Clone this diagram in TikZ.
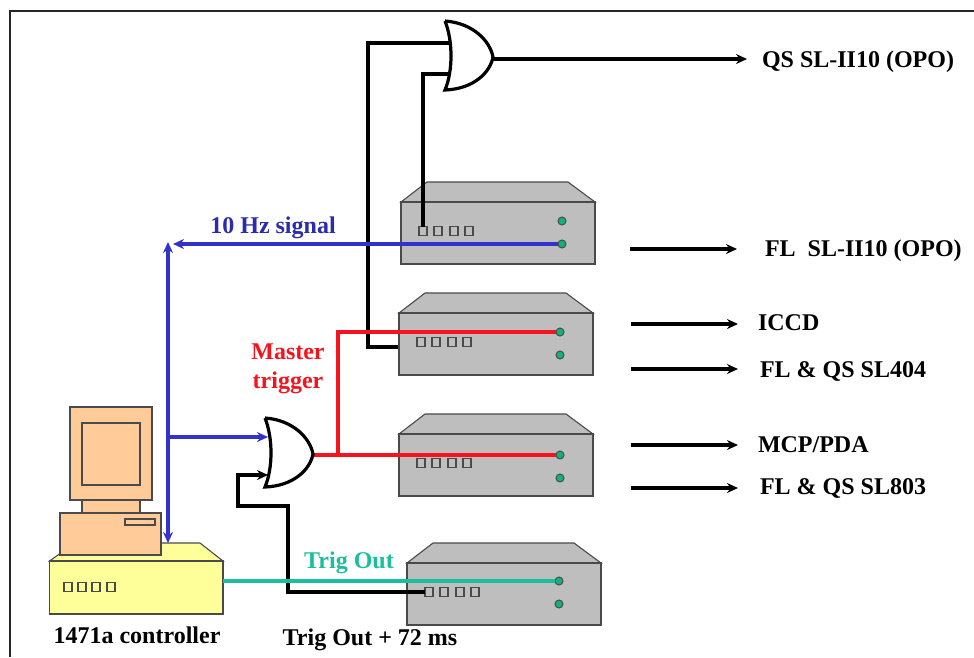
\documentclass[tikz,border=0pt]{standalone}
\usepackage{fontspec}
\setmainfont{Liberation Serif}
\usetikzlibrary{arrows.meta}
\definecolor{sigblue}{HTML}{3333CC}
\definecolor{sigred}{HTML}{F5141E}
\definecolor{siggreen}{HTML}{1ABF9B}
\definecolor{boxgray}{HTML}{BEBEBE}
\definecolor{boxedge}{HTML}{4A4A4A}
\definecolor{pcskin}{HTML}{FFCC99}
\definecolor{ctrlyellow}{HTML}{FFFF99}
\definecolor{ledgreen}{HTML}{10B380}
\tikzset{
  wire/.style={line width=3.2pt},
  boxedge/.style={draw=boxedge, line width=1.1pt},
  chassisbox/.style={boxedge, fill=boxgray, inner sep=0pt, outer sep=0pt, anchor=north west, minimum width=194pt, minimum height=62pt},
  chassispad/.style={boxedge, inner sep=0pt, outer sep=0pt, minimum width=8pt, minimum height=9pt},
  chassisled/.style={circle, draw=boxedge, fill=ledgreen, line width=1pt, inner sep=0pt, outer sep=0pt, minimum size=8pt},
  lbl/.style={font=\fontsize{24}{28}\selectfont\bfseries, inner sep=0pt, outer sep=0pt},
}
% name, x, y of the front's top left corner, led x offset, led y offset
\newcommand{\chassis}[5]{
  \filldraw[boxedge, fill=boxgray] (#2,#3) -- (#2+26,#3-20) -- (#2+167,#3-20) -- (#2+194,#3) -- cycle;
  \node[chassisbox] (#1) at (#2,#3) {};
  \node[chassispad] (#1-p1) at (#2+22,#3+29) {};
  \node[chassispad] (#1-p2) at (#2+37,#3+29) {};
  \node[chassispad] (#1-p3) at (#2+53,#3+29) {};
  \node[chassispad] (#1-p4) at (#2+68,#3+29) {};
  \node[chassisled] (#1-d1) at (#2+#4,#3+#5) {};
  \node[chassisled] (#1-d2) at (#2+#4,#3+#5+23) {};
}
% x, y of the top tip of the back
\newcommand{\orgate}[2]{
  \filldraw[line width=3.2pt, fill=white, line join=miter] (#1,#2) .. controls (#1+8,#2+20) and (#1+8,#2+50) .. (#1,#2+69)
    .. controls (#1+28,#2+68) and (#1+45,#2+52) .. (#1+48,#2+36)
    .. controls (#1+45,#2+20) and (#1+28,#2+2) .. (#1,#2);
}
\begin{document}
\begin{tikzpicture}[x=1pt, y=-1pt, >={Stealth[length=11pt, width=10pt]}]
  \useasboundingbox (0,0) rectangle (974,657);

  % 1. frame (left and top only)
  \draw[line width=2.8pt, black!85] (10,657) -- (10,11) -- (974,11);

  % 2. delay boxes
  \chassis{flbox}{401}{202}{161}{19}
  \chassis{icbox}{399}{313}{161}{19}
  \chassis{mcbox}{399}{434}{161}{21}
  \chassis{tobox}{407}{563}{152}{18}

  % 3. controller and computer
  \filldraw[boxedge, fill=ctrlyellow] (49.5,561) -- (75,543) -- (200,543) -- (223,561) -- cycle;
  \node[boxedge, fill=ctrlyellow, inner sep=0pt, outer sep=0pt, anchor=north west, minimum width=173.5pt, minimum height=53pt] (ctrl) at (49.5,561) {};
  \node[chassispad] (ctrl-p1) at (68,587) {};
  \node[chassispad] (ctrl-p2) at (82,587) {};
  \node[chassispad] (ctrl-p3) at (96,587) {};
  \node[chassispad] (ctrl-p4) at (111,587) {};
  \filldraw[boxedge, fill=pcskin] (82,500) rectangle (140,513);
  \filldraw[boxedge, fill=pcskin] (70,407) rectangle (152,500);
  \draw[boxedge] (82,423) rectangle (140,485);
  \filldraw[boxedge, fill=pcskin] (60,513) rectangle (161,555);
  \draw[boxedge] (125,519) rectangle (155,525);

  % 4. named points of the wiring
  \coordinate (hzleft) at (173,244);
  \coordinate (hztop) at (168,242);
  \coordinate (hzbot) at (168,543);
  \coordinate (hzgate) at (168,437);
  \coordinate (gatea) at (268,437);
  \coordinate (gateb) at (268,475);
  \coordinate (gateo) at (313,455);
  \coordinate (redfork) at (338,455);
  \coordinate (qsa) at (451,43);
  \coordinate (qsb) at (451,74);
  \coordinate (qso) at (493,59);
  \coordinate (ictap) at (398,347);

  % 5. wires
  \draw[wire, black, line join=miter] (ictap) -| (368,43) -- (qsa);
  \draw[wire, black, line join=miter] (flbox-p1.north) |- (qsb);
  \draw[wire, sigblue, ->] (flbox-d2.west) -- (hzleft);
  \draw[wire, sigblue, <->] (hzbot) -- (hztop);
  \draw[wire, sigblue, ->] (hzgate) -- (gatea);
  \draw[wire, black, ->, line join=miter] (tobox-p1.west) -| (288,506) -| (238,475) -- (gateb);
  \draw[wire, siggreen] (ctrl.east |- tobox-d1) -- (tobox-d1.west);
  \draw[wire, sigred] (gateo) -- (mcbox-d1.west);
  \draw[wire, sigred, line join=miter] (redfork) |- (icbox-d1.west);

  % 6. gates
  \orgate{445}{21}
  \orgate{265}{418}

  % 7. outputs
  \node[lbl, anchor=west] (qslbl) at (762,62) {QS SL-II10 (OPO)};
  \node[lbl, anchor=west] (fllbl) at (765,251) {FL\ \ SL-II10 (OPO)};
  \node[lbl, anchor=west] (iclbl) at (758,323) {ICCD};
  \node[lbl, anchor=west] (sl4lbl) at (760,371) {FL \& QS SL404};
  \node[lbl, anchor=west] (mclbl) at (758,445) {MCP/PDA};
  \node[lbl, anchor=west] (sl8lbl) at (760,488) {FL \& QS SL803};

  \coordinate (flout) at (630,249);
  \coordinate (icout) at (631,324);
  \coordinate (sl4out) at (631,369);
  \coordinate (mcout) at (631,445);
  \coordinate (sl8out) at (631,488);

  \draw[wire, ->, shorten >=15pt] (qso) -- (qso -| qslbl.west);
  \draw[wire, ->, shorten >=28pt] (flout) -- (flout -| fllbl.west);
  \draw[wire, ->, shorten >=20pt] (icout) -- (icout -| iclbl.west);
  \draw[wire, ->, shorten >=22pt] (sl4out) -- (sl4out -| sl4lbl.west);
  \draw[wire, ->, shorten >=20pt] (mcout) -- (mcout -| mclbl.west);
  \draw[wire, ->, shorten >=22pt] (sl8out) -- (sl8out -| sl8lbl.west);

  % 8. signal names
  \node[lbl, text=sigblue!85!black] (hzlbl) at (273,228) {10 Hz signal};
  \node[lbl, text=sigred, align=center, font=\fontsize{24}{29}\selectfont\bfseries] (mtlbl) at (288,369) {Master\\trigger};
  \node[lbl, text=siggreen] (tolbl) at (349,563) {Trig Out};
  \node[lbl] (ctrllbl) at (137,635) {1471a controller};
  \node[lbl] (delaylbl) at (370,640) {Trig Out + 72 ms};

\end{tikzpicture}
\end{document}
